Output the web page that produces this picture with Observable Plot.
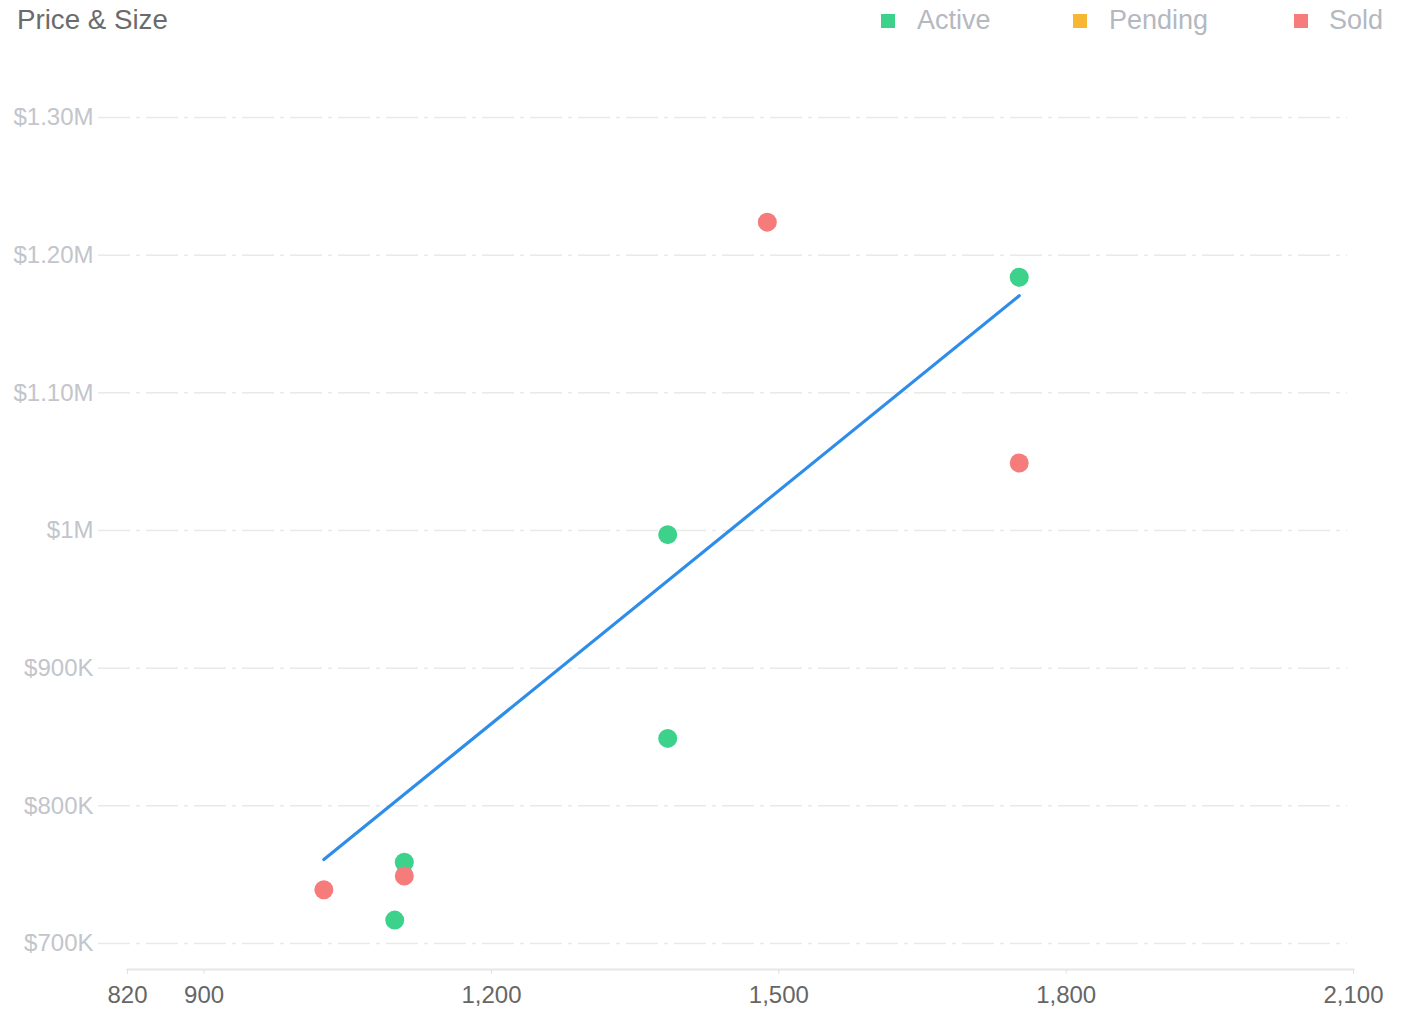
<!DOCTYPE html>
<html>
<head>
<meta charset="utf-8">
<script src="https://cdn.jsdelivr.net/npm/d3@7"></script>
<script src="https://cdn.jsdelivr.net/npm/@observablehq/plot@0.6"></script>
<style>
  html, body { margin: 0; padding: 0; background: #fff; }
  body { width: 1404px; height: 1013px; overflow: hidden; font-family: "Liberation Sans", Arial, sans-serif; }
  #header { position: relative; height: 44px; width: 1404px; }
  #title { position: absolute; left: 17px; top: 3px; font-size: 27.7px; color: #6b6b6b; line-height: 34px; }
  .leg { position: absolute; top: 3px; font-size: 27px; color: #b4b8c0; line-height: 34px; }
  .sw { position: absolute; top: 14px; width: 14px; height: 14px; }
</style>
</head>
<body>
<div id="header"></div>
<div id="chart"></div>
<script>
// ---- data ----
const statuses = ["Active", "Pending", "Sold"];
const statusColors = ["#3dd28c", "#f6b732", "#f67b7b"];

const pointStatus = ["Active", "Active", "Active", "Active", "Active", "Sold", "Sold", "Sold", "Sold"];
const pointSqft   = [1099, 1109, 1384, 1384, 1751, 1025, 1109, 1488, 1751];
const pointPrice  = [717000, 759000, 997000, 849000, 1184000, 739000, 749000, 1224000, 1049000];

const trendSqft  = [1025, 1751];
const trendPrice = [761000, 1170500];

const xTicks = [820, 900, 1200, 1500, 1800, 2100];
const yTicks = [700000, 800000, 900000, 1000000, 1100000, 1200000, 1300000];
const yTickLabels = ["$700K", "$800K", "$900K", "$1M", "$1.10M", "$1.20M", "$1.30M"];

const titleText = "Price & Size";

// ---- header (title + legend) ----
const header = document.getElementById("header");
const t = document.createElement("div");
t.id = "title"; t.textContent = titleText; header.appendChild(t);
const legPos = [{sw: 881, tx: 917}, {sw: 1073, tx: 1109}, {sw: 1294, tx: 1329}];
statuses.forEach((s, i) => {
  const sw = document.createElement("div");
  sw.className = "sw"; sw.style.left = legPos[i].sw + "px"; sw.style.background = statusColors[i];
  header.appendChild(sw);
  const tx = document.createElement("div");
  tx.className = "leg"; tx.style.left = legPos[i].tx + "px"; tx.textContent = s;
  header.appendChild(tx);
});

// ---- tables ----
const points = pointStatus.map((s, i) => ({status: s, sqft: pointSqft[i], price: pointPrice[i]}));
const trend = trendSqft.map((x, i) => ({sqft: x, price: trendPrice[i]}));
const yLabelMap = new Map(yTicks.map((v, i) => [v, yTickLabels[i]]));

const chart = Plot.plot({
  width: 1404,
  height: 969,
  marginLeft: 127,
  marginRight: 51,
  marginTop: 20,
  marginBottom: 44,
  style: {fontFamily: "'Liberation Sans', Arial, sans-serif", background: "#fff", overflow: "visible"},
  x: {domain: [820, 2100]},
  y: {domain: [700000, 1300000], range: [899, 73]},
  color: {domain: statuses, range: statusColors},
  marks: [
    Plot.ruleY(yTicks, {stroke: "#e9e9e9", strokeWidth: 1.5, strokeDasharray: "32,6,4,6", insetLeft: -29, insetRight: 6}),
    Plot.frame({anchor: "bottom", stroke: "#e6e6e6", strokeWidth: 2}),
    Plot.axisX({ticks: xTicks, tickFormat: d3.format(","), tickSize: 5, tickPadding: 11, stroke: "#e2e2e2", fill: "#666", fontSize: 24, label: null}),
    Plot.axisY({ticks: yTicks, tickFormat: d => yLabelMap.get(d), tickSize: 0, tickPadding: 34, fill: "#c2c5cb", fontSize: 24, label: null}),
    Plot.line(trend, {x: "sqft", y: "price", stroke: "#2f8dea", strokeWidth: 3.2}),
    Plot.dot(points, {x: "sqft", y: "price", fill: "status", r: 9.5})
  ]
});
document.getElementById("chart").appendChild(chart);
</script>
</body>
</html>
